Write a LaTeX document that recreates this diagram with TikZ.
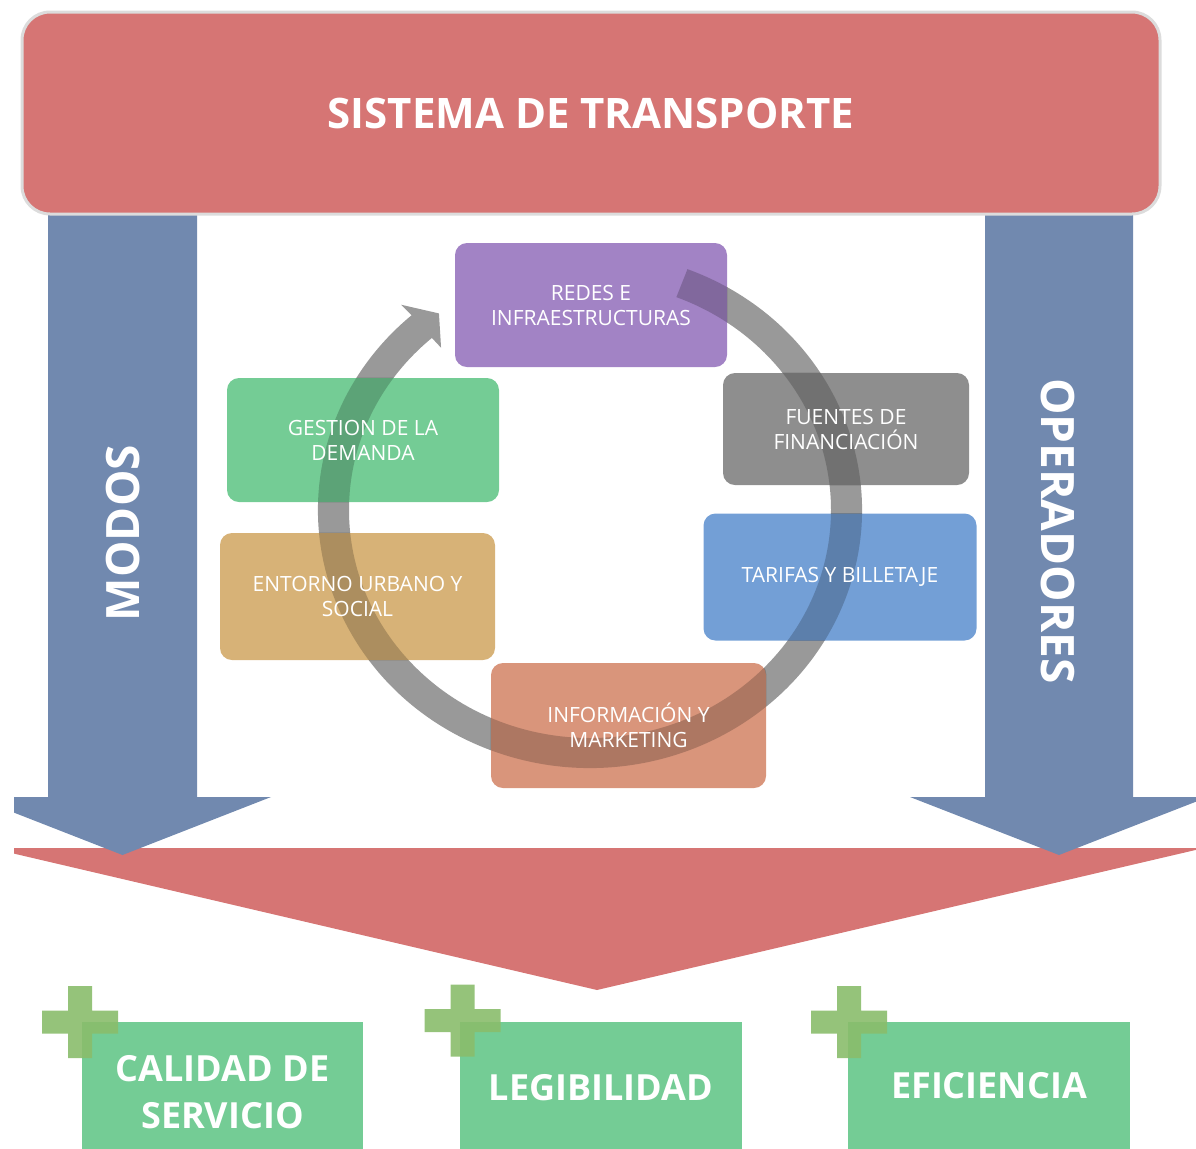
\documentclass[tikz,border=0pt]{standalone}
\usepackage{fontspec}
\setmainfont{Open Sans}
\definecolor{topred}{HTML}{D67574}
\definecolor{bluearr}{HTML}{7189AF}
\definecolor{purp}{HTML}{A283C5}
\definecolor{grn}{HTML}{74CC95}
\definecolor{gry}{HTML}{8E8E8E}
\definecolor{blu}{HTML}{739FD6}
\definecolor{tanc}{HTML}{D7B277}
\definecolor{salmon}{HTML}{D9957B}
\definecolor{ringc}{HTML}{999999}
\definecolor{plusc}{HTML}{8ABD6B}
\definecolor{edgec}{HTML}{DCDCDC}
\begin{document}
\begin{tikzpicture}[x=0.5pt,y=-0.5pt,
  cbox/.style={rounded corners=6pt, inner sep=0pt},
  ctext/.style={text=white, align=center, font=\fontsize{10.5}{12.5}\selectfont},
  gbox/.style={fill=grn, inner sep=0pt, text=white, align=center,
    font=\fontsize{18}{23.5}\selectfont\bfseries},
  sidetext/.style={text=white, font=\fontsize{23}{23}\selectfont\bfseries},
  pics/plussign/.style={code={\fill[plusc, fill opacity=.9] (-12,-36) rectangle (12,36) (-38,-11.5) rectangle (38,11.5);}}
]
\useasboundingbox (0,0) rectangle (1196,1148);
\def\ringpath{([shift={(590,510)}]-69:272 and 258) arc[start angle=-69,end angle=229,x radius=272,y radius=258]
  -- ([shift={(590,510)}]229:288 and 272) -- ([shift={(590,510)}]234:257 and 243)
  -- ([shift={(590,510)}]229:227 and 215) -- ([shift={(590,510)}]229:241 and 228)
  arc[start angle=229,end angle=-69,x radius=241,y radius=228] -- cycle}

\begin{scope}
\clip (14,0) rectangle (1196,1148);
% big red chevron
\fill[topred] (-10,848) -- (1204,848) -- (597,990) -- cycle;
% blue arrows
\fill[bluearr] (48,200) -- (197,200) -- (197,797) -- (271,797) -- (122.5,855) -- (-26,797) -- (48,797) -- cycle;
\fill[bluearr] (985,200) -- (1133,200) -- (1133,797) -- (1208,797) -- (1059,855) -- (910,797) -- (985,797) -- cycle;
\end{scope}
\node[sidetext, rotate=90] (modos) at (123,533) {MODOS};
\node[sidetext, rotate=-90] (operadores) at (1058,531) {OPERADORES};

% top box
\node[fill=topred, draw=edgec, line width=1.5pt, rounded corners=14pt,
  minimum width=569pt, minimum height=101pt, inner sep=0pt,
  text=white, font=\fontsize{21}{24}\selectfont\bfseries] (sistema) at (591,113) {SISTEMA DE TRANSPORTE};

% cycle ring
\fill[ringc] \ringpath;

% boxes
\node[cbox, fill=purp, minimum width=136pt, minimum height=62pt] (redes) at (591,305) {};
\node[cbox, fill=grn, minimum width=136pt, minimum height=62pt] (gestion) at (363,440) {};
\node[cbox, fill=gry, minimum width=123pt, minimum height=56pt] (fuentes) at (846,429) {};
\node[cbox, fill=blu, minimum width=136.5pt, minimum height=63.5pt] (tarifas) at (840,577) {};
\node[cbox, fill=tanc, minimum width=137.5pt, minimum height=63.5pt] (entorno) at (357.5,596.5) {};
\node[cbox, fill=salmon, minimum width=137.5pt, minimum height=62.5pt] (info) at (628.5,725.5) {};

% ring seen through boxes
\begin{scope}
\clip[rounded corners=6pt] (redes.south west) rectangle (redes.north east)
  (gestion.south west) rectangle (gestion.north east)
  (fuentes.south west) rectangle (fuentes.north east)
  (tarifas.south west) rectangle (tarifas.north east)
  (entorno.south west) rectangle (entorno.north east)
  (info.south west) rectangle (info.north east);
\fill[black, fill opacity=0.2] \ringpath;
\end{scope}

% box labels
\node[ctext] (redesT) at (redes) {REDES E\\INFRAESTRUCTURAS};
\node[ctext] (gestionT) at (gestion) {GESTION DE LA\\DEMANDA};
\node[ctext] (fuentesT) at (fuentes) {FUENTES DE\\FINANCIACIÓN};
\node[ctext] (tarifasT) at (tarifas) {TARIFAS Y BILLETAJE};
\node[ctext] (entornoT) at (entorno) {ENTORNO URBANO Y\\SOCIAL};
\node[ctext] (infoT) at (info) {INFORMACIÓN Y\\MARKETING};

% bottom result boxes (extend below the page edge, which crops them)
\node[gbox, minimum width=140.5pt, minimum height=70pt] (calidad) at (222.5,1092) {CALIDAD DE\\SERVICIO};
\node[gbox, minimum width=141pt, minimum height=66pt] (legib) at (601,1088) {LEGIBILIDAD};
\node[gbox, minimum width=141pt, minimum height=64pt] (efic) at (989,1086) {EFICIENCIA};
\pic at (80,1022) {plussign};
\pic at (462.5,1020.5) {plussign};
\pic at (849,1022) {plussign};
\end{tikzpicture}
\end{document}
